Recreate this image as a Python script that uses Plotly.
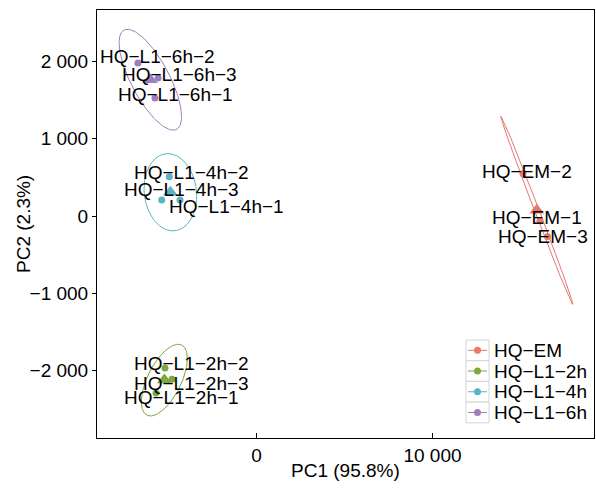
import numpy as np
import plotly.graph_objects as go

# ---------------- data ----------------
group_names = ["HQ-EM", "HQ-L1-2h", "HQ-L1-4h", "HQ-L1-6h"]
group_colors = ["#E7796F", "#7EA73C", "#5DB2C3", "#9C80BE"]

sample_names = ["HQ-EM-1", "HQ-EM-2", "HQ-EM-3",
                "HQ-L1-2h-1", "HQ-L1-2h-2", "HQ-L1-2h-3",
                "HQ-L1-4h-1", "HQ-L1-4h-2", "HQ-L1-4h-3",
                "HQ-L1-6h-1", "HQ-L1-6h-2", "HQ-L1-6h-3"]
sample_group = ["HQ-EM", "HQ-EM", "HQ-EM",
                "HQ-L1-2h", "HQ-L1-2h", "HQ-L1-2h",
                "HQ-L1-4h", "HQ-L1-4h", "HQ-L1-4h",
                "HQ-L1-6h", "HQ-L1-6h", "HQ-L1-6h"]
pc1 = [16102, 15142, 16534,
       -5710, -5200, -4800,
       -4347, -4955, -5386,
       -5770, -6740, -5590]
pc2 = [-63, 550, -265,
       -2291, -1968, -2115,
       207, 509, 207,
       1527, 1981, 1786]

x_label = "PC1 (95.8%)"
y_label = "PC2 (2.3%)"

# ---------------- style ----------------
FONT = "Liberation Sans, Arial, Helvetica, sans-serif"
FS = 19
ELLIPSE_RADIUS = 2.87
W, H = 596, 490
ML, MR, MT, MB = 97, 2, 10, 52
X_RANGE = [-9063, 19176]
Y_RANGE = [-2874, 2667]

# label offsets from point, in pixels (dx right, dy down)
label_offsets = {
    "HQ-EM-1": (-3, -3), "HQ-EM-2": (4, -2.5), "HQ-EM-3": (-4.5, 0),
    "HQ-L1-2h-1": (25, 5), "HQ-L1-2h-2": (27, -5), "HQ-L1-2h-3": (19, 4),
    "HQ-L1-4h-1": (46, 6), "HQ-L1-4h-2": (22, -4), "HQ-L1-4h-3": (20, -11),
    "HQ-L1-6h-1": (21, -4), "HQ-L1-6h-2": (20, -6), "HQ-L1-6h-3": (21, -4),
}

def disp(s):
    return s.replace("-", "\u2212")

fig = go.Figure()
x_arr = np.array(pc1, dtype=float)
y_arr = np.array(pc2, dtype=float)
g_arr = np.array(sample_group)

theta = np.linspace(0, 2 * np.pi, 201)
circle = np.vstack([np.cos(theta), np.sin(theta)])

# ellipses
for g, c in zip(group_names, group_colors):
    m = g_arr == g
    pts = np.vstack([x_arr[m], y_arr[m]])
    mu = pts.mean(axis=1, keepdims=True)
    S = np.cov(pts)
    L = np.linalg.cholesky(S)
    e = mu + ELLIPSE_RADIUS * (L @ circle)
    fig.add_trace(go.Scatter(x=e[0], y=e[1], mode="lines",
                             line=dict(color=c, width=1),
                             hoverinfo="skip", showlegend=False))

# points
for g, c in zip(group_names, group_colors):
    m = g_arr == g
    fig.add_trace(go.Scatter(x=x_arr[m], y=y_arr[m], mode="markers",
                             marker=dict(color=c, size=7, line=dict(width=0)),
                             name=disp(g), showlegend=False))

# centroids
for g, c in zip(group_names, group_colors):
    m = g_arr == g
    fig.add_trace(go.Scatter(x=[x_arr[m].mean()], y=[y_arr[m].mean()], mode="markers",
                             marker=dict(color=c, size=13, symbol="triangle-up",
                                         line=dict(width=0)),
                             hoverinfo="skip", showlegend=False))

annotations = []
for n, xv, yv in zip(sample_names, pc1, pc2):
    dx, dy = label_offsets[n]
    annotations.append(dict(x=xv, y=yv, xref="x", yref="y", text=disp(n),
                            showarrow=False, xshift=dx, yshift=-dy,
                            xanchor="center", yanchor="middle",
                            font=dict(family=FONT, size=FS, color="black")))

# axis titles
PW = W - ML - MR
PH = H - MT - MB

def px_x(p):
    return (p - ML) / PW

def px_y(p):
    return (H - MB - p) / PH

annotations.append(dict(x=0.5, y=px_y(470), xref="paper", yref="paper",
                        text=x_label, showarrow=False, xanchor="center",
                        yanchor="middle", font=dict(family=FONT, size=FS, color="black")))
annotations.append(dict(x=px_x(23), y=0.5, xref="paper", yref="paper",
                        text=y_label, showarrow=False, textangle=-90,
                        xanchor="center", yanchor="middle",
                        font=dict(family=FONT, size=FS, color="black")))

# custom legend (ggplot style keys)
shapes = []
row_h = 20.7
key_x0, key_x1 = 466, 489
top0 = 340
for i, (g, c) in enumerate(zip(group_names, group_colors)):
    t = top0 + i * row_h
    b = t + row_h
    cy = (t + b) / 2
    shapes.append(dict(type="rect", xref="paper", yref="paper",
                       x0=px_x(key_x0), x1=px_x(key_x1), y0=px_y(b), y1=px_y(t),
                       line=dict(color="#D4D4D4", width=1), fillcolor="white"))
    shapes.append(dict(type="line", xref="paper", yref="paper",
                       x0=px_x(key_x0 + 2), x1=px_x(key_x1 - 2), y0=px_y(cy), y1=px_y(cy),
                       line=dict(color=c, width=1)))
    cx = (key_x0 + key_x1) / 2
    shapes.append(dict(type="circle", xref="paper", yref="paper",
                       x0=px_x(cx - 3.5), x1=px_x(cx + 3.5), y0=px_y(cy + 3.5), y1=px_y(cy - 3.5),
                       line=dict(width=0), fillcolor=c))
    annotations.append(dict(x=px_x(492), y=px_y(cy), xref="paper", yref="paper",
                            text=disp(g), showarrow=False, xanchor="left", yanchor="middle",
                            font=dict(family=FONT, size=FS, color="black")))

fig.update_layout(
    width=W, height=H, autosize=False,
    margin=dict(l=ML, r=MR, t=MT, b=MB),
    paper_bgcolor="white", plot_bgcolor="white",
    separators=". ",
    showlegend=False,
    annotations=annotations,
    shapes=shapes,
    font=dict(family=FONT, size=FS, color="black"),
)
fig.update_xaxes(range=X_RANGE, tick0=0, dtick=10000, showgrid=False, zeroline=False,
                 showline=True, mirror=True, linecolor="black", linewidth=1,
                 ticks="inside", ticklen=5, tickcolor="black", tickwidth=1,
                 tickformat=",d", separatethousands=True,
                 tickfont=dict(family=FONT, size=FS, color="black"))
fig.update_yaxes(range=Y_RANGE, tick0=0, dtick=1000, showgrid=False, zeroline=False,
                 showline=True, mirror=True, linecolor="black", linewidth=1,
                 ticks="outside", ticklen=4, tickcolor="black", tickwidth=1,
                 tickformat=",d", separatethousands=True,
                 tickfont=dict(family=FONT, size=FS, color="black"))

fig.write_html("out.html")
